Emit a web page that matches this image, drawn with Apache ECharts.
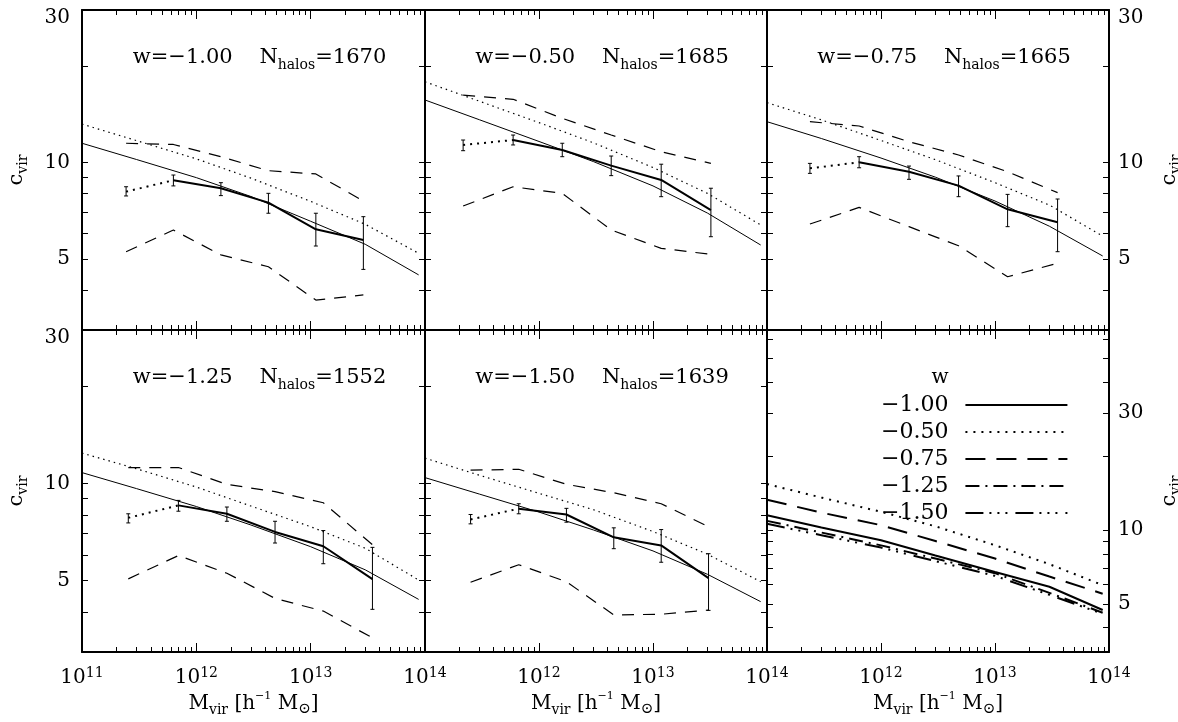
<!DOCTYPE html>
<html lang="en">
<head>
    <meta charset="utf-8">
    <title>c_vir vs M_vir for different w</title>
    <script src="https://cdn.jsdelivr.net/npm/echarts@6.0.0/dist/echarts.min.js"></script>
    <style>
        html, body { margin: 0; padding: 0; background: #fff; }
        #main { width: 1178px; height: 722px; }
    </style>
</head>
<body>
<div id="main"></div>
<script type="text/javascript">
    // ---- data ----
    var wValues = ['−1.00', '−0.50', '−0.75', '−1.25', '−1.50'];
    var nHalos = [1670, 1685, 1665, 1552, 1639];

    // tick positions / labels
    var massDecades = [1e11, 1e12, 1e13, 1e14];
    var cTicks = [4, 5, 6, 7, 8, 9, 10, 20];
    var cTicksWide = [4, 5, 6, 7, 8, 9, 10, 20, 30, 40, 50, 60];
    var cLabels = [5, 10, 30];

    // masses where the model curves were sampled
    var modelMass = [1e11, 3e11, 1e12, 3e12, 1e13, 3e13, 8.8e13];

    // w = -1.00
    var mass_w100 = [2.43e11, 6.30e11, 1.64e12, 4.27e12, 1.11e13, 2.89e13];
    var median_w100 = [8.12, 8.81, 8.32, 7.50, 6.19, 5.73];
    var errHigh_w100 = [8.41, 9.15, 8.66, 8.02, 6.95, 6.78];
    var errLow_w100 = [7.87, 8.46, 7.89, 6.95, 5.49, 4.64];
    var upperQ_w100 = [11.5, 11.4, 10.44, 9.44, 9.22, 7.59];
    var lowerQ_w100 = [5.27, 6.16, 5.15, 4.73, 3.72, 3.86];
    var fit_w100 = [11.5, 10.23, 8.98, 7.84, 6.56, 5.56, 4.46];
    var alt_w100 = [13.2, 11.72, 10.28, 8.95, 7.57, 6.42, 5.21];

    // w = -0.50
    var mass_w050 = [2.16e11, 5.93e11, 1.60e12, 4.30e12, 1.18e13, 3.22e13];
    var median_w050 = [11.36, 11.77, 10.95, 9.79, 8.83, 7.11];
    var errHigh_w050 = [11.77, 12.2, 11.5, 10.49, 9.89, 8.32];
    var errLow_w050 = [10.90, 11.36, 10.44, 9.11, 7.83, 5.87];
    var upperQ_w050 = [16.27, 15.78, 13.76, 12.2, 10.82, 9.95];
    var lowerQ_w050 = [7.32, 8.41, 8.02, 6.16, 5.40, 5.17];
    var fit_w050 = [15.7, 13.62, 11.65, 10.08, 8.46, 6.96, 5.53];
    var alt_w050 = [17.9, 15.56, 13.34, 11.54, 9.66, 8.02, 6.39];

    // w = -0.75
    var mass_w075 = [2.38e11, 6.43e11, 1.76e12, 4.79e12, 1.29e13, 3.54e13];
    var median_w075 = [9.6, 10.03, 9.37, 8.48, 7.15, 6.51];
    var errHigh_w075 = [9.95, 10.44, 9.76, 9.09, 7.96, 7.70];
    var errLow_w075 = [9.26, 9.64, 8.87, 7.83, 6.31, 5.27];
    var upperQ_w075 = [13.43, 13.02, 11.63, 10.57, 9.37, 8.06];
    var lowerQ_w075 = [6.43, 7.25, 6.31, 5.50, 4.40, 4.85];
    var fit_w075 = [13.43, 11.9, 10.34, 9.01, 7.59, 6.33, 5.11];
    var alt_w075 = [15.4, 13.61, 11.73, 10.22, 8.66, 7.37, 5.90];

    // w = -1.25
    var mass_w125 = [2.54e11, 6.97e11, 1.85e12, 4.88e12, 1.29e13, 3.47e13];
    var median_w125 = [7.83, 8.56, 8.06, 7.08, 6.39, 5.05];
    var errHigh_w125 = [8.06, 8.87, 8.46, 7.64, 7.15, 6.34];
    var errLow_w125 = [7.55, 8.21, 7.64, 6.54, 5.64, 4.07];
    var upperQ_w125 = [11.22, 11.22, 9.95, 9.44, 8.72, 6.46];
    var lowerQ_w125 = [5.06, 5.98, 5.27, 4.40, 4.02, 3.32];
    var fit_w125 = [10.82, 9.65, 8.49, 7.44, 6.37, 5.40, 4.37];
    var alt_w125 = [12.44, 11.12, 9.76, 8.52, 7.35, 6.30, 5.02];

    // w = -1.50
    var mass_w150 = [2.51e11, 6.64e11, 1.74e12, 4.53e12, 1.18e13, 3.07e13];
    var median_w150 = [7.74, 8.36, 8.02, 6.81, 6.43, 5.09];
    var errHigh_w150 = [8.02, 8.66, 8.38, 7.29, 7.20, 6.06];
    var errLow_w150 = [7.50, 8.06, 7.59, 6.28, 5.70, 4.04];
    var upperQ_w150 = [11.01, 11.08, 9.95, 9.37, 8.66, 7.35];
    var lowerQ_w150 = [4.94, 5.60, 4.96, 3.91, 3.93, 4.05];
    var fit_w150 = [10.44, 9.28, 8.16, 7.18, 6.18, 5.23, 4.30];
    var alt_w150 = [12.0, 10.62, 9.33, 8.30, 7.10, 6.04, 4.96];

    // last panel: model curves for all w
    var cmp_w100 = [11.5, 10.24, 9.08, 7.87, 6.74, 5.87, 4.72];
    var cmp_w050 = [15.4, 13.57, 11.87, 10.36, 8.67, 7.26, 5.96];
    var cmp_w075 = [13.3, 11.78, 10.47, 9.02, 7.65, 6.46, 5.5];
    var cmp_w125 = [10.9, 9.77, 8.66, 7.65, 6.67, 5.54, 4.6];
    var cmp_w150 = [10.6, 9.53, 8.48, 7.47, 6.5, 5.44, 4.55];

    var panels = [
        {mass: mass_w100, med: median_w100, hi: errHigh_w100, lo: errLow_w100, up: upperQ_w100, dn: lowerQ_w100, fit: fit_w100, alt: alt_w100},
        {mass: mass_w050, med: median_w050, hi: errHigh_w050, lo: errLow_w050, up: upperQ_w050, dn: lowerQ_w050, fit: fit_w050, alt: alt_w050},
        {mass: mass_w075, med: median_w075, hi: errHigh_w075, lo: errLow_w075, up: upperQ_w075, dn: lowerQ_w075, fit: fit_w075, alt: alt_w075},
        {mass: mass_w125, med: median_w125, hi: errHigh_w125, lo: errLow_w125, up: upperQ_w125, dn: lowerQ_w125, fit: fit_w125, alt: alt_w125},
        {mass: mass_w150, med: median_w150, hi: errHigh_w150, lo: errLow_w150, up: upperQ_w150, dn: lowerQ_w150, fit: fit_w150, alt: alt_w150}
    ];
    var summary = [cmp_w100, cmp_w050, cmp_w075, cmp_w125, cmp_w150];
    var summaryDash = ['solid', [2, 6], [20, 11], [14, 6, 2, 6], [18, 6, 2, 6, 2, 6, 2, 8]];

    // ---- layout ----
    var serif = 'DejaVu Serif';
    var boxes = [
        [82, 10, 343, 320], [425, 10, 342, 320], [767, 10, 342, 320],
        [82, 330, 343, 322], [425, 330, 342, 322], [767, 330, 342, 322]
    ];

    var minorMass = [];
    for (var d = 0; d < 3; d++) {
        for (var k = 2; k <= 9; k++) minorMass.push(k * massDecades[d]);
    }

    var myChart = echarts.init(document.getElementById('main'), null, {renderer: 'canvas'});

    function pairs(xs, ys) {
        return xs.map(function (x, i) { return [x, ys[i]]; });
    }

    function massAxis(g, pos, major, labels) {
        var ax = {
            type: 'log', logBase: 10, gridIndex: g, position: pos, min: 1e11, max: 1e14,
            axisLine: {show: major, onZero: false, lineStyle: {color: '#000', width: 2}},
            axisTick: {show: true, inside: true, length: major ? 9 : 5,
                customValues: major ? massDecades : minorMass,
                lineStyle: {color: '#000', width: 1}},
            axisLabel: {show: false},
            splitLine: {show: false},
            minorTick: {show: false}
        };
        if (labels) {
            ax.axisLabel = {
                show: true, customValues: labels, margin: 14,
                showMinLabel: true, showMaxLabel: true,
                color: '#000', fontFamily: serif, fontSize: 20, lineHeight: 24,
                formatter: function (v) {
                    return '10{sup|' + Math.round(Math.log10(v)) + '}';
                },
                rich: {sup: {fontFamily: serif, fontSize: 14, lineHeight: 14, verticalAlign: 'top', color: '#000'}}
            };
            ax.name = 'M{sub|vir} [h{sup|−1} M{odot|⊙}]';
            ax.nameLocation = 'middle';
            ax.nameGap = 36;
            ax.nameTextStyle = {
                color: '#000', fontFamily: serif, fontSize: 20, lineHeight: 26,
                rich: {
                    sub: {fontFamily: serif, fontSize: 14, lineHeight: 14, verticalAlign: 'bottom', color: '#000'},
                    sup: {fontFamily: serif, fontSize: 11, lineHeight: 11, verticalAlign: 'top', color: '#000'},
                    odot: {fontFamily: serif, fontSize: 15, lineHeight: 18, verticalAlign: 'bottom', color: '#000'}
                }
            };
        }
        return ax;
    }

    function concAxis(g, pos, min, max, ticks, labelled) {
        var ax = {
            type: 'log', logBase: 10, gridIndex: g, position: pos, min: min, max: max,
            axisLine: {show: true, onZero: false, lineStyle: {color: '#000', width: 2}},
            axisTick: {show: true, inside: true, length: 6, customValues: ticks,
                lineStyle: {color: '#000', width: 1}},
            axisLabel: {show: false},
            splitLine: {show: false}
        };
        if (labelled) {
            ax.axisLabel = {
                show: true, customValues: cLabels, margin: pos === 'left' ? 12 : 9,
                showMinLabel: true, showMaxLabel: true,
                color: '#000', fontFamily: serif, fontSize: 20,
                formatter: function (v) {
                    var s = String(Math.round(v));
                    return (Math.round(v) === Math.round(max)) ? '{edge|' + s + '}' : s;
                },
                rich: {edge: {fontFamily: serif, fontSize: 20, color: '#000', padding: [16, 0, 0, 0]}}
            };
            ax.name = 'c{sub|vir}';
            ax.nameLocation = 'middle';
            ax.nameRotate = 90;
            ax.nameGap = pos === 'left' ? 52 : 48;
            ax.nameTextStyle = {
                color: '#000', fontFamily: serif, fontSize: 21, lineHeight: 26,
                rich: {sub: {fontFamily: serif, fontSize: 14, lineHeight: 14, verticalAlign: 'bottom', color: '#000'}}
            };
        }
        return ax;
    }

    function line(name, g, data, width, type) {
        return {
            name: name, type: 'line', xAxisIndex: 4 * g, yAxisIndex: 2 * g,
            data: data, symbol: 'none', silent: true, animation: false,
            lineStyle: {color: '#000', width: width, type: type},
            itemStyle: {color: '#000'},
            z: 3
        };
    }

    function renderErrorBar(params, api) {
        var x = api.value(0);
        var lo = api.coord([x, api.value(1)]);
        var hi = api.coord([x, api.value(2)]);
        var cap = 2;
        var st = {stroke: '#000', lineWidth: 1};
        return {
            type: 'group',
            children: [
                {type: 'line', shape: {x1: lo[0], y1: lo[1], x2: hi[0], y2: hi[1]}, style: st},
                {type: 'line', shape: {x1: lo[0] - cap, y1: lo[1], x2: lo[0] + cap, y2: lo[1]}, style: st},
                {type: 'line', shape: {x1: hi[0] - cap, y1: hi[1], x2: hi[0] + cap, y2: hi[1]}, style: st}
            ]
        };
    }

    var grid = [], xAxis = [], yAxis = [], series = [], graphic = [];

    boxes.forEach(function (b, g) {
        grid.push({left: b[0], top: b[1], width: b[2], height: b[3], containLabel: false, outerBoundsMode: 'none'});
        var bottomRow = g >= 3;
        var labels = bottomRow ? (g === 3 ? massDecades : massDecades.slice(1)) : null;
        xAxis.push(massAxis(g, 'bottom', true, labels));
        xAxis.push(massAxis(g, 'bottom', false, null));
        xAxis.push(massAxis(g, 'top', true, null));
        xAxis.push(massAxis(g, 'top', false, null));
        var last = g === 5;
        var yMin = last ? 3.18 : 3, yMax = last ? 65.5 : 30;
        var ticks = last ? cTicksWide : cTicks;
        yAxis.push(concAxis(g, 'left', yMin, yMax, ticks, g === 0 || g === 3));
        yAxis.push(concAxis(g, 'right', yMin, yMax, ticks, g === 2 || g === 5));
    });

    panels.forEach(function (p, i) {
        var g = i;
        series.push(line('fit ' + i, g, pairs(modelMass, p.fit), 1, 'solid'));
        series.push(line('alt ' + i, g, pairs(modelMass, p.alt), 1.2, [1.5, 4]));
        series.push(line('upper ' + i, g, pairs(p.mass, p.up), 1.2, [12, 9]));
        series.push(line('lower ' + i, g, pairs(p.mass, p.dn), 1.2, [12, 9]));
        series.push(line('low bin ' + i, g, pairs(p.mass.slice(0, 2), p.med.slice(0, 2)), 2, [2, 5]));
        series.push(line('median ' + i, g, pairs(p.mass.slice(1), p.med.slice(1)), 2, 'solid'));
        series.push({
            name: 'err ' + i, type: 'custom', xAxisIndex: 4 * g, yAxisIndex: 2 * g,
            silent: true, animation: false, z: 4,
            data: p.mass.map(function (m, j) { return [m, p.lo[j], p.hi[j]]; }),
            encode: {x: 0, y: [1, 2]},
            renderItem: renderErrorBar
        });

        var b = boxes[g];
        graphic.push({
            type: 'text', x: b[0] + b[2] / 2 + 6, y: b[1] + 48, silent: true,
            style: {
                text: 'w=' + wValues[i] + '    N{sub|halos}=' + nHalos[i],
                fill: '#000', fontFamily: serif, fontSize: 21, lineHeight: 28,
                align: 'center', verticalAlign: 'middle',
                rich: {sub: {fontFamily: serif, fontSize: 14, lineHeight: 14, verticalAlign: 'bottom', fill: '#000'}}
            }
        });
    });

    summary.forEach(function (curve, k) {
        series.push(line(wValues[k], 5, pairs(modelMass, curve), 2, summaryDash[k]));
    });

    graphic.push({
        type: 'text', x: 940, y: 378, silent: true,
        style: {text: 'w', fill: '#000', fontFamily: serif, fontSize: 20, align: 'center', verticalAlign: 'middle'}
    });

    myChart.setOption({
        backgroundColor: '#fff',
        animation: false,
        grid: grid,
        xAxis: xAxis,
        yAxis: yAxis,
        legend: {
            show: true, orient: 'vertical', left: 876, top: 389, align: 'right',
            itemWidth: 102, itemHeight: 12, itemGap: 5, selectedMode: false,
            data: wValues.map(function (w, k) {
                return {
                    name: w,
                    itemStyle: {color: 'transparent', opacity: 0, borderWidth: 0},
                    lineStyle: {color: '#000', width: 2, type: summaryDash[k]}
                };
            }),
            textStyle: {color: '#000', fontFamily: serif, fontSize: 22, padding: [0, 12, 0, 0]}
        },
        graphic: graphic,
        series: series
    });
</script>
</body>
</html>
